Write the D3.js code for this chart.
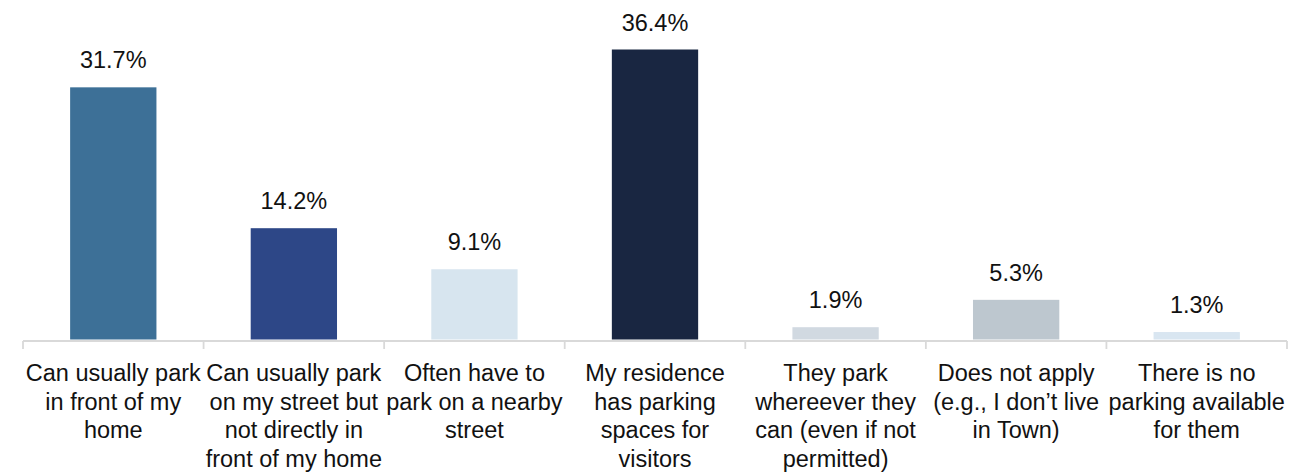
<!DOCTYPE html>
<html>
<head>
<meta charset="utf-8">
<script src="https://cdn.jsdelivr.net/npm/d3@7"></script>
<style>
  html, body { margin: 0; padding: 0; background: #fff; }
  svg { display: block; }
  text { font-family: "Liberation Sans", Arial, sans-serif; fill: #111; }
</style>
</head>
<body>
<svg id="chart" width="1299" height="472"></svg>
<script>
// Parking situation for visitors, share of respondents (%)
const categories = [
  ["Can usually park", "in front of my", "home"],
  ["Can usually park", "on my street but", "not directly in", "front of my home"],
  ["Often have to", "park on a nearby", "street"],
  ["My residence", "has parking", "spaces for", "visitors"],
  ["They park", "whereever they", "can (even if not", "permitted)"],
  ["Does not apply", "(e.g., I don\u2019t live", "in Town)"],
  ["There is no", "parking available", "for them"]
];
const values = [31.7, 14.2, 9.1, 36.4, 1.9, 5.3, 1.3];
const colors = ["#3d7097", "#2d4787", "#d7e5ef", "#192641", "#d1d9e1", "#bdc7cf", "#d9e6f1"];

const svg = d3.select("#chart");
const fontSize = 23.5;
const axisY = 341;
const barBottom = 339.5;

const keys = categories.map((_, i) => i);

// one band per category; ticks sit on band boundaries
const x = d3.scaleBand()
  .domain(keys)
  .range([23, 1287])
  .paddingInner(0.522)
  .paddingOuter(0.261);

const xBounds = d3.scaleBand().domain(keys).range([23, 1287]);

const y = d3.scaleLinear()
  .domain([0, 36.4])
  .range([342.5, 49.5]);

// bars
svg.append("g")
  .selectAll("rect")
  .data(values)
  .join("rect")
  .attr("x", (d, i) => x(i))
  .attr("y", d => y(d))
  .attr("width", x.bandwidth())
  .attr("height", d => Math.max(0, barBottom - y(d)))
  .attr("fill", (d, i) => colors[i]);

// value labels
svg.append("g")
  .selectAll("text")
  .data(values)
  .join("text")
  .attr("x", (d, i) => x(i) + x.bandwidth() / 2)
  .attr("y", d => y(d) - 19)
  .attr("text-anchor", "middle")
  .style("font-size", fontSize + "px")
  .text(d => d.toFixed(1) + "%");

// baseline axis with boundary ticks
const axisG = svg.append("g");
axisG.append("line")
  .attr("x1", xBounds.range()[0])
  .attr("x2", xBounds.range()[1])
  .attr("y1", axisY)
  .attr("y2", axisY)
  .attr("stroke", "#d9d9d9")
  .attr("stroke-width", 1.8);

const tickXs = keys.map(i => xBounds(i)).concat([xBounds.range()[1]]);
axisG.selectAll("line.tick")
  .data(tickXs)
  .join("line")
  .attr("class", "tick")
  .attr("x1", d => d)
  .attr("x2", d => d)
  .attr("y1", axisY)
  .attr("y2", axisY + 8)
  .attr("stroke", "#d9d9d9")
  .attr("stroke-width", 1.8);

// category labels, wrapped
const labelG = svg.append("g");
categories.forEach((lines, i) => {
  const t = labelG.append("text")
    .attr("x", xBounds(i) + xBounds.bandwidth() / 2)
    .attr("y", 381)
    .attr("text-anchor", "middle")
    .style("font-size", fontSize + "px");
  lines.forEach((ln, j) => {
    t.append("tspan")
      .attr("x", xBounds(i) + xBounds.bandwidth() / 2)
      .attr("y", 381 + j * 28.5)
      .text(ln);
  });
});
</script>
</body>
</html>
